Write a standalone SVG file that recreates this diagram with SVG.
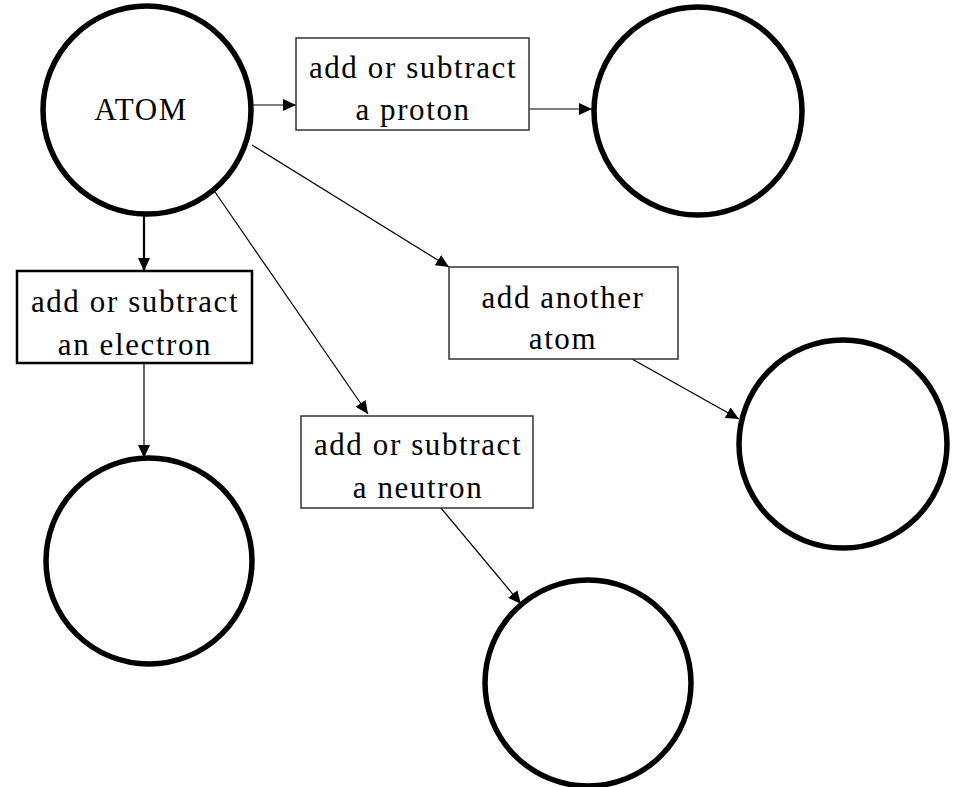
<svg xmlns="http://www.w3.org/2000/svg" width="958" height="787" viewBox="0 0 958 787">
<style>
.c{fill:#fff;stroke:#000;stroke-width:5.5}
.b{fill:#fff;stroke:#333;stroke-width:1.5}
.bt{fill:#fff;stroke:#000;stroke-width:2.5}
.t{font-family:"Liberation Serif","Times New Roman",serif;font-size:31px;letter-spacing:1.6px;text-anchor:middle;fill:#000}
.e{stroke:#000;stroke-width:1.2;fill:none;marker-end:url(#ah)}
.et{stroke:#000;stroke-width:2.2;fill:none;marker-end:url(#ah)}
</style>
<defs>
<marker id="ah" markerUnits="userSpaceOnUse" markerWidth="14" markerHeight="12" refX="13" refY="6" orient="auto">
<path d="M0,0 L13,6 L0,12 Z" fill="#000"/>
</marker>
</defs>
<rect width="958" height="787" fill="#fff"/>
<g id="connectors">
<line class="e" x1="253" y1="105" x2="296" y2="105"/>
<line class="e" x1="529" y1="109" x2="592" y2="109"/>
<line class="et" x1="144" y1="213" x2="144" y2="271"/>
<line class="e" x1="144" y1="363" x2="144" y2="458"/>
<line class="e" x1="252" y1="145" x2="449" y2="267"/>
<line class="e" x1="632" y1="359" x2="739" y2="419"/>
<line class="e" x1="215" y1="192" x2="368" y2="414"/>
<line class="e" x1="441" y1="508" x2="521" y2="604"/>
</g>
<g id="atom">
<circle class="c" cx="147" cy="110" r="104"/>
<text class="t" x="141" y="120">ATOM</text>
</g>
<g id="proton">
<rect class="b" x="296" y="38" width="233" height="92"/>
<text class="t" x="413" y="78">add or subtract</text>
<text class="t" x="413" y="120">a proton</text>
</g>
<g id="circle-proton">
<circle class="c" cx="698" cy="111" r="104"/>
</g>
<g id="electron">
<rect class="bt" x="17" y="271" width="235" height="92"/>
<text class="t" x="135" y="312">add or subtract</text>
<text class="t" x="135" y="355">an electron</text>
</g>
<g id="circle-electron">
<circle class="c" cx="149" cy="561" r="103"/>
</g>
<g id="another">
<rect class="b" x="449" y="267" width="229" height="92"/>
<text class="t" x="563" y="308">add another</text>
<text class="t" x="563" y="349">atom</text>
</g>
<g id="circle-another">
<circle class="c" cx="843" cy="444" r="104"/>
</g>
<g id="neutron">
<rect class="b" x="301" y="416" width="232" height="92"/>
<text class="t" x="418" y="455">add or subtract</text>
<text class="t" x="418" y="498">a neutron</text>
</g>
<g id="circle-neutron">
<circle class="c" cx="588" cy="683" r="103"/>
</g>
</svg>
